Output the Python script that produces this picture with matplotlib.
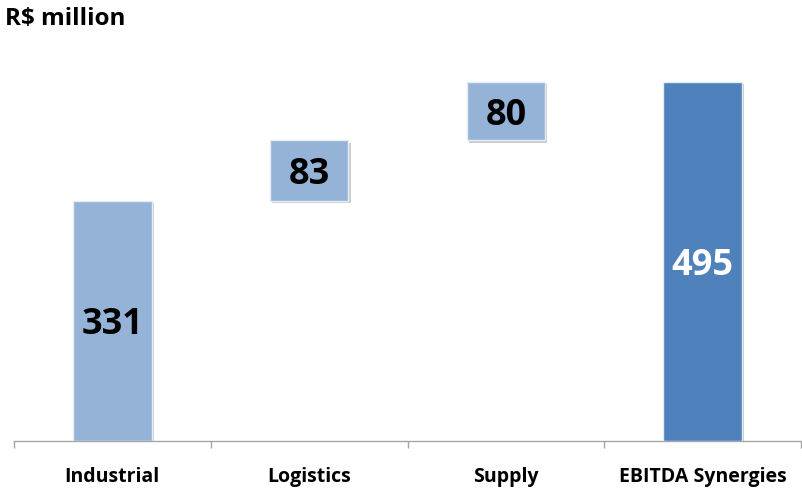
import matplotlib.pyplot as plt
import matplotlib.patheffects as pe

categories = ["Industrial", "Logistics", "Supply", "EBITDA Synergies"]
values = [331, 83, 80, 495]
is_total = [False, False, False, True]

light = "#95B3D7"
dark = "#4F81BD"

plt.rcParams["font.family"] = ["Open Sans", "DejaVu Sans"]

fig = plt.figure(figsize=(8.02, 4.91), dpi=100)
ax = fig.add_axes([14 / 802, 50 / 491, 787 / 802, 0.726 * 560 / 491])

running = 0
for i, (cat, val, total) in enumerate(zip(categories, values, is_total)):
    bottom = 0 if total else running
    color = dark if total else light
    bar = ax.bar(
        i, val, bottom=bottom, width=0.4, color=color,
        edgecolor="#E6ECF4", linewidth=1.0, zorder=3,
    )[0]
    bar.set_path_effects([
        pe.SimplePatchShadow(offset=(1.5, -1.5), alpha=0.25),
        pe.Normal(),
    ])
    ax.text(
        i, bottom + val / 2 - 6, str(val), ha="center", va="center",
        fontsize=26, fontweight="bold",
        color="white" if total else "black", zorder=4,
    )
    if not total:
        running += val

ax.set_xlim(-0.5, len(categories) - 0.5)
ax.set_ylim(0, 560)
ax.set_xticks(range(len(categories)))
ax.set_xticklabels(categories, fontsize=14, fontweight="bold")
ax.tick_params(axis="x", which="major", length=0, pad=19)
ax.set_xticks([i - 0.5 for i in range(len(categories) + 1)], minor=True)
ax.tick_params(axis="x", which="minor", length=5, color="#A6A6A6", width=1)
ax.set_yticks([])
for side in ["top", "right", "left"]:
    ax.spines[side].set_visible(False)
ax.spines["bottom"].set_color("#A6A6A6")
ax.spines["bottom"].set_linewidth(1)

fig.text(5 / 802, 1 - 19 / 491, "R$ million", fontsize=17.5,
         fontweight="bold", va="center", ha="left")

fig.savefig("out.png", dpi=100)
